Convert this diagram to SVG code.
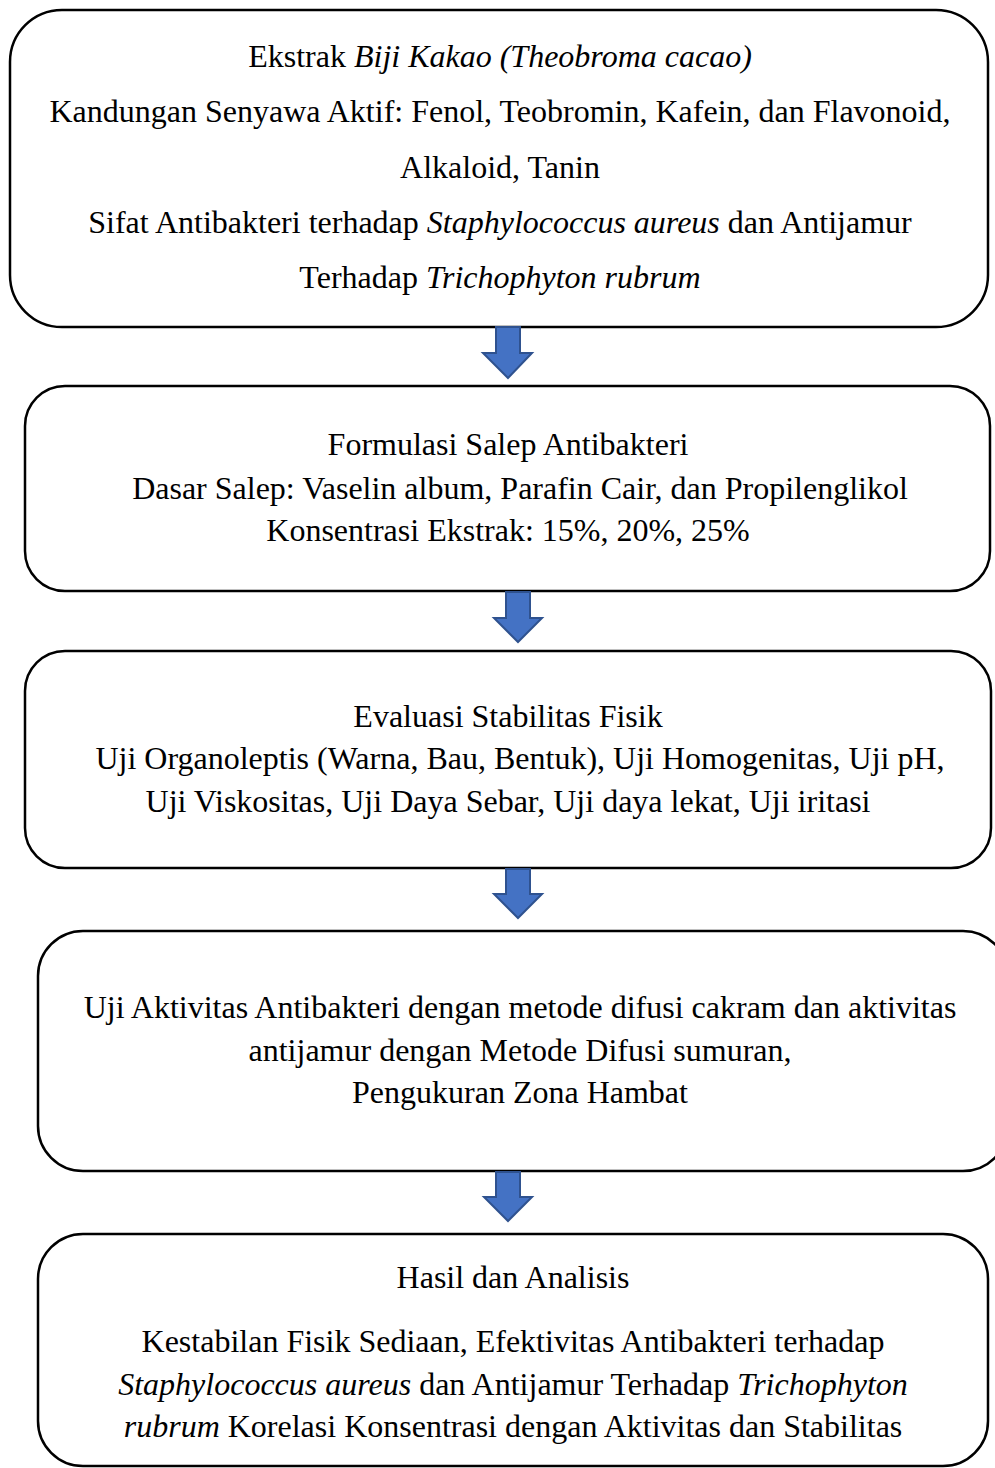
<svg xmlns="http://www.w3.org/2000/svg" width="995" height="1468" viewBox="0 0 995 1468">
<defs>
<style>
.box{fill:#fff;stroke:#000;stroke-width:2.5}
.t{font-family:"Liberation Serif","Times New Roman",serif;font-size:32px;fill:#000;text-anchor:middle}
.i{font-style:italic}
.arr{fill:#4472C4;stroke:#2F528F;stroke-width:2;stroke-linejoin:miter}
</style>
</defs>
<rect width="995" height="1468" fill="#fff"/>
<g id="node1">
<rect class="box" x="10" y="10" width="978" height="317" rx="52" ry="52"/>
<text class="t" x="500" y="67">Ekstrak <tspan class="i">Biji Kakao (Theobroma cacao)</tspan></text>
<text class="t" x="500" y="122">Kandungan Senyawa Aktif: Fenol, Teobromin, Kafein, dan Flavonoid,</text>
<text class="t" x="500" y="178">Alkaloid, Tanin</text>
<text class="t" x="500" y="233">Sifat Antibakteri terhadap <tspan class="i">Staphylococcus aureus</tspan> dan Antijamur</text>
<text class="t" x="500" y="288">Terhadap <tspan class="i">Trichophyton rubrum</tspan></text>
</g>
<g id="node2">
<rect class="box" x="25" y="386" width="965" height="205" rx="40" ry="40"/>
<text class="t" x="508" y="455">Formulasi Salep Antibakteri</text>
<text class="t" x="520" y="499">Dasar Salep: Vaselin album, Parafin Cair, dan Propilenglikol</text>
<text class="t" x="508" y="541">Konsentrasi Ekstrak: 15%, 20%, 25%</text>
</g>
<g id="node3">
<rect class="box" x="25" y="651" width="966" height="217" rx="40" ry="40"/>
<text class="t" x="508" y="727">Evaluasi Stabilitas Fisik</text>
<text class="t" x="520" y="769">Uji Organoleptis (Warna, Bau, Bentuk), Uji Homogenitas, Uji pH,</text>
<text class="t" x="508" y="812">Uji Viskositas, Uji Daya Sebar, Uji daya lekat, Uji iritasi</text>
</g>
<g id="node4">
<rect class="box" x="38" y="931" width="970" height="240" rx="45" ry="45"/>
<text class="t" x="520" y="1018">Uji Aktivitas Antibakteri dengan metode difusi cakram dan aktivitas</text>
<text class="t" x="520" y="1061">antijamur dengan Metode Difusi sumuran,</text>
<text class="t" x="520" y="1103">Pengukuran Zona Hambat</text>
</g>
<g id="node5">
<rect class="box" x="38" y="1234" width="950" height="232" rx="45" ry="45"/>
<text class="t" x="513" y="1288">Hasil dan Analisis</text>
<text class="t" x="513" y="1352">Kestabilan Fisik Sediaan, Efektivitas Antibakteri terhadap</text>
<text class="t" x="513" y="1395"><tspan class="i">Staphylococcus aureus</tspan> dan Antijamur Terhadap <tspan class="i">Trichophyton</tspan></text>
<text class="t" x="513" y="1437"><tspan class="i">rubrum</tspan> Korelasi Konsentrasi dengan Aktivitas dan Stabilitas</text>
</g>
<g id="connectors">
<polygon class="arr" points="496,327 520,327 520,353 532,353 508,378 483,353 496,353"/>
<polygon class="arr" points="506,592 530,592 530,618 542,618 518,642 494,618 506,618"/>
<polygon class="arr" points="506,869 530,869 530,894 542,894 518,918 494,894 506,894"/>
<polygon class="arr" points="496,1172 520,1172 520,1197 532,1197 508,1221 484,1197 496,1197"/>
</g>
</svg>
